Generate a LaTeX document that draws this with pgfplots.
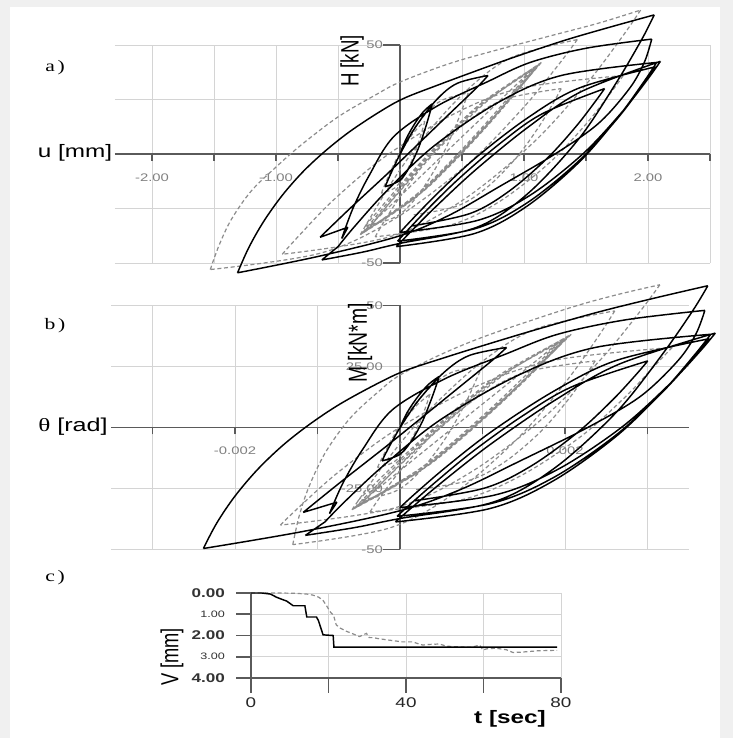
\documentclass[border=0pt]{standalone}
\usepackage{pgfplots}
\pgfplotsset{compat=1.18}
\usepackage{graphicx}
\usepackage{fontspec}
\setmainfont{Liberation Sans}[FakeStretch=1.35]
\newfontfamily\serifw{Liberation Serif}[FakeStretch=1.35]
\newfontfamily\plainsans{Liberation Sans}

\definecolor{axisgray}{HTML}{5A5A5A}
\definecolor{gridgray}{HTML}{D4D4D4}
\definecolor{dashgray}{HTML}{8C8C8C}
\definecolor{labgray}{HTML}{808080}
\definecolor{bggray}{HTML}{F0F0F0}

\pgfplotsset{
  hyst/.style={
    scale only axis, clip=false, axis lines=middle,
    axis line style={-, draw=axisgray, line width=1.1pt},
    grid=major, major grid style={draw=gridgray, line width=0.6pt},
    tick align=outside, major tick length=5.25pt,
    xtick style={draw=axisgray, line width=1.1pt},
    ytick style={draw=none},
    tick label style={font=\fontsize{8.25}{9}\selectfont, text=labgray},
    unbounded coords=jump, scaled ticks=false,
  },
  solidcurve/.style={black, line width=1.1pt, smooth, tension=0.55},
  dashcurve/.style={dashgray, line width=0.9pt, dash pattern=on 3pt off 2pt, smooth, tension=0.55},
}

\begin{document}
\begin{tikzpicture}[x=0.75pt,y=0.75pt]
\path[use as bounding box] (0,0) rectangle (733,738);
\fill[bggray] (0,0) rectangle (733,738);
\fill[white] (10,0) rectangle (720,731);

% ---------------- a) horizontal force vs. displacement
\begin{axis}[hyst, at={(86.1pt,356.25pt)}, anchor=south west,
  width=446.4pt, height=163.5pt,
  xmin=-2.3, xmax=2.5, ymin=-50, ymax=50,
  xtick={-2,-1.5,-1,-0.5,0,0.5,1,1.5,2,2.5},
  xticklabels={-2.00,,-1.00,,0.00,,1.00,,2.00,},
  ytick={-50,-25,0,25,50}, yticklabels={-50,,0,,50},
  xticklabel style={yshift=-6pt}, yticklabel style={xshift=-4pt},
]
\draw[axisgray, line width=1.1pt] (axis cs:0,50) -- ++(-12.75pt,0pt);
\draw[axisgray, line width=1.1pt] (axis cs:0,-50) -- ++(-12.75pt,0pt);
% test (dashed)
\addplot[dashcurve] coordinates {
(0,0) (0.05,5) (0.12,10.5) (0.2,15) (nan,nan)
(0.2,15) (0.183,11.5) (0.148,5.1) (0.095,-3.0) (0.025,-10.8) (-0.045,-15.7) (-0.15,-18) (nan,nan)
(-0.15,-18) (-0.115,-13.1) (-0.045,-4.2) (0.06,7.0) (0.2,18.0) (0.34,24.7) (0.55,28) (nan,nan)
(0.55,28) (0.508,21.5) (0.425,9.6) (0.30,-5.2) (0.135,-19.7) (-0.03,-28.7) (-0.28,-33) (nan,nan)
(-0.28,-33) (-0.073,-19.1) (0.134,-5.9) (0.41,10.4) (0.686,24.7) (1.1,40) (nan,nan)
(1.1,40) (0.89,25.6) (0.68,11.8) (0.40,-5.1) (0.12,-20.1) (-0.3,-36) (nan,nan)
(-0.3,-36) (-0.087,-21.4) (0.126,-7.4) (0.41,9.7) (0.694,24.9) (1.12,41) (nan,nan)
(1.12,41) (0.915,26.75) (0.709,13.2) (0.435,-3.55) (0.161,-18.3) (-0.25,-34) (nan,nan)
(-0.25,-34) (-0.05,-20.1) (0.149,-6.9) (0.415,9.4) (0.681,23.7) (1.08,39) (nan,nan)
(1.08,39) (0.87,24.6) (0.66,10.8) (0.38,-6.1) (0.10,-21.1) (-0.32,-37) (nan,nan)
(-0.32,-37) (-0.066,-23.1) (0.176,-9.8) (0.48,6.8) (0.754,21.7) (1.06,38.5) (nan,nan)
(1.06,38.5) (0.8605,25.0) (0.661,12.1) (0.395,-4.1) (0.129,-18.7) (-0.27,-35) (nan,nan)
(-0.27,-35) (-0.058,-20.8) (0.153,-7.3) (0.435,9.6) (0.717,24.9) (1.14,42) (nan,nan)
(1.14,42) (0.921,27.5) (0.702,13.6) (0.41,-3.8) (0.118,-19.5) (-0.32,-37) (nan,nan)
(-0.32,-37) (-0.0575,-12.2) (0.205,8.6) (0.555,30.1) (0.905,44.4) (1.43,52.5) (nan,nan)
(1.43,52.5) (1.282,41.2) (0.986,20.7) (0.542,-4.9) (-0.05,-30.0) (-0.642,-45.5) (-1.53,-53) (nan,nan)
(-1.53,-53) (-1.46,-42) (-1.36,-30) (-1.2,-17) (-1.0,-6) (-0.8,4) (-0.5,17) (-0.2,27) (0,33) (0.4,41.5) (0.8,48) (1.2,54) (1.6,60) (1.94,66) (nan,nan)
(1.94,66) (1.795,54.0) (1.506,32.3) (1.073,5.1) (0.495,-21.6) (-0.083,-38.0) (-0.95,-46) (nan,nan)
(-0.95,-46) (-0.81,-37.2) (-0.54,-21.3) (-0.125,-1.4) (0.425,18.1) (0.975,30.2) (1.8,36) (nan,nan)
(1.8,36) (1.70,28.1) (1.50,13.7) (1.2,-4.3) (0.8,-21.9) (0.4,-32.7) (-0.2,-38) (nan,nan)
(-0.2,-38) (-0.125,-30.7) (0.025,-17.5) (0.25,-1.0) (0.55,15.2) (0.85,25.2) (1.3,30) (nan,nan)
(1.3,30) (1.24,23.8) (1.12,12.5) (0.94,-1.6) (0.7,-15.4) (0.46,-23.9) (0.1,-28)
};
% model (solid)
\addplot[solidcurve] coordinates {
(0,0) (0.05,7) (0.12,14) (0.19,19.5) (0.26,23) (nan,nan)
(0.26,23) (0.241,18.9) (0.203,11.6) (0.146,2.3) (0.07,-6.7) (-0.006,-12.3) (-0.12,-15) (nan,nan)
(-0.12,-15) (-0.078,-9.5) (0.005,0.4) (0.129,12.7) (0.295,24.9) (0.461,32.4) (0.71,36) (nan,nan)
(0.71,36) (0.62,30.5) (0.4,18.5) (0.1,2) (-0.11,-9.5) (-0.4,-24.8) (-0.645,-38.2) (nan,nan)
(-0.645,-38.2) (-0.42,-33.6) (nan,nan)
(-0.42,-33.6) (-0.47,-38.8) (nan,nan)
(-0.47,-38.8) (-0.38,-25) (-0.25,-10) (-0.05,8) (0.3,22) (0.7,33) (1.05,42) (1.5,48.5) (2.03,52.7) (nan,nan)
(2.03,52.7) (1.97,42) (1.85,30) (1.6,14) (1.25,0) (0.8,-15) (0.4,-28) (0,-37.5) (-0.645,-46.8) (-1.31,-54.5) (nan,nan)
(-1.31,-54.5) (-1.22,-43) (-1.1,-31) (-0.95,-19) (-0.78,-8) (-0.6,1.5) (-0.4,10.5) (-0.16,19.5) (0.03,25.5) (0.3,31.5) (0.56,37) (0.9,44) (1.32,52) (1.7,58.3) (2.05,63.8) (nan,nan)
(2.05,63.8) (1.95,52.6) (1.74,32.3) (1.44,6.8) (1.03,-18.2) (0.62,-33.6) (0,-41) (-0.3,-45) (-0.63,-48.6) (nan,nan)
(-0.63,-48.6) (-0.5,-42.5) (nan,nan)
(-0.5,-42.5) (-0.37,-33.5) (-0.11,-17.1) (0.27,3.5) (0.79,23.6) (1.30,36) (2.07,42) (nan,nan)
(2.07,42) (1.965,33.0) (1.755,16.6) (1.44,-4.0) (1.02,-24.1) (0.6,-36.5) (-0.03,-42.5) (nan,nan)
(-0.03,-42.5) (0.077,-36.2) (0.29,-24.1) (0.609,-7.3) (1.035,12.4) (1.461,28.6) (2.1,42.5) (nan,nan)
(2.1,42.5) (1.995,34.1) (1.785,18.9) (1.47,-0.2) (1.05,-18.9) (0.63,-30.4) (0,-36) (nan,nan)
(0,-36) (0.103,-29.7) (0.309,-17.7) (0.618,-1.4) (1.03,16.6) (1.442,30.2) (2.06,40) (nan,nan)
(2.06,40) (1.956,31.4) (1.748,15.9) (1.436,-3.5) (1.02,-22.6) (0.604,-34.3) (-0.02,-40) (nan,nan)
(-0.02,-40) (0.064,-34.8) (0.23,-24.9) (0.481,-11.0) (0.815,5.2) (1.149,18.5) (1.65,30) (nan,nan)
(1.65,30) (1.5725,23.9) (1.4175,12.5) (1.185,-2.1) (0.875,-17.25) (0.565,-27.3) (0.1,-33)
};
\end{axis}

% ---------------- b) moment vs. rotation
\begin{axis}[hyst, at={(83.44pt,141.375pt)}, anchor=south west,
  width=433.125pt, height=183pt,
  xmin=-0.0035, xmax=0.0035, ymin=-50, ymax=50,
  xtick={-0.003,-0.002,-0.001,0,0.001,0.002,0.003},
  xticklabels={,-0.002,,0.000,,0.002,},
  ytick={-50,-25,0,25,50}, yticklabels={-50,-25.00,0,25.00,50},
  xticklabel style={yshift=-6pt}, yticklabel style={xshift=-4pt},
]
\draw[axisgray, line width=1.1pt] (axis cs:0,50) -- ++(-12.75pt,0pt);
\draw[axisgray, line width=1.1pt] (axis cs:0,-50) -- ++(-12.75pt,0pt);
\addplot[dashcurve] coordinates {
(0,0) (0.000091,4.6) (0.000218,9.6) (0.000364,13.7) (nan,nan)
(0.000364,13.7) (0.000333,10.5) (0.000269,4.6) (0.000173,-2.7) (0.000046,-9.8) (-0.000082,-14.3) (-0.000273,-16.4) (nan,nan)
(-0.000273,-16.4) (-0.000209,-11.9) (-0.000082,-3.8) (0.000109,6.4) (0.000364,16.4) (0.000619,22.5) (0.001001,25.5) (nan,nan)
(0.001001,25.5) (0.000925,19.6) (0.000774,8.7) (0.000546,-4.7) (0.000246,-17.9) (-0.000055,-26.1) (-0.000510,-30.0) (nan,nan)
(-0.000510,-30.0) (-0.000133,-17.4) (0.000244,-5.4) (0.000746,9.5) (0.001249,22.5) (0.002002,36.4) (nan,nan)
(0.002002,36.4) (0.001620,23.3) (0.001238,10.7) (0.000728,-4.6) (0.000218,-18.3) (-0.000546,-32.8) (nan,nan)
(-0.000546,-32.8) (-0.000158,-19.5) (0.000229,-6.7) (0.000746,8.8) (0.001263,22.7) (0.002038,37.3) (nan,nan)
(0.002038,37.3) (0.001665,24.3) (0.001290,12.0) (0.000792,-3.2) (0.000293,-16.7) (-0.000455,-30.9) (nan,nan)
(-0.000455,-30.9) (-0.000091,-18.3) (0.000271,-6.3) (0.000755,8.6) (0.001239,21.6) (0.001966,35.5) (nan,nan)
(0.001966,35.5) (0.001583,22.4) (0.001201,9.8) (0.000692,-5.6) (0.000182,-19.2) (-0.000582,-33.7) (nan,nan)
(-0.000582,-33.7) (-0.000120,-21.0) (0.000320,-8.9) (0.000874,6.2) (0.001372,19.7) (0.001929,35.0) (nan,nan)
(0.001929,35.0) (0.001566,22.8) (0.001203,11.0) (0.000719,-3.7) (0.000235,-17.0) (-0.000491,-31.9) (nan,nan)
(-0.000491,-31.9) (-0.000106,-18.9) (0.000278,-6.6) (0.000792,8.7) (0.001305,22.7) (0.002075,38.2) (nan,nan)
(0.002075,38.2) (0.001676,25.0) (0.001278,12.4) (0.000746,-3.5) (0.000215,-17.7) (-0.000582,-33.7) (nan,nan)
(-0.000582,-33.7) (-0.000105,-11.1) (0.000373,7.8) (0.001010,27.4) (0.001647,40.4) (0.002603,47.8) (nan,nan)
(0.002603,47.8) (0.002408,37.5) (0.002017,19.0) (0.001432,-4.3) (0.000652,-27.1) (-0.000129,-41.2) (-0.001300,-48.0) (nan,nan)
(-0.001300,-48.0) (-0.001220,-36) (-0.001100,-24) (-0.000900,-10) (-0.000600,4) (-0.000250,15) (0,21.5) (0.000500,30) (0.001000,37) (0.001600,44) (0.002200,50.5) (0.002700,55) (0.003150,58.5) (nan,nan)
(0.003150,58.5) (0.002920,48.0) (0.002460,28.9) (0.001770,4.9) (0.000850,-18.5) (-0.000070,-33.0) (-0.001450,-40) (nan,nan)
(-0.001450,-40) (-0.001210,-32.2) (-0.000740,-18.1) (-0.000025,-0.4) (0.000925,16.9) (0.001875,27.6) (0.003300,32.8) (nan,nan)
(0.003300,32.8) (0.003094,25.6) (0.002730,12.5) (0.002184,-3.9) (0.001456,-19.9) (0.000728,-29.8) (-0.000364,-34.6) (nan,nan)
(-0.000364,-34.6) (-0.000228,-27.9) (0.000046,-15.9) (0.000455,-0.9) (0.001001,13.8) (0.001547,22.9) (0.002366,27.3) (nan,nan)
(0.002366,27.3) (0.002257,21.7) (0.002038,11.4) (0.001711,-1.5) (0.001274,-14.0) (0.000837,-21.7) (0.000182,-25.5)
};
\addplot[solidcurve] coordinates {
(0,0) (0.000091,6.4) (0.000218,12.7) (0.000346,17.7) (0.000473,20.9) (nan,nan)
(0.000473,20.9) (0.000439,17.2) (0.000369,10.6) (0.000266,2.1) (0.000127,-6.1) (-0.000011,-11.2) (-0.000218,-13.7) (nan,nan)
(-0.000218,-13.7) (-0.000142,-8.6) (0.000009,0.4) (0.000235,11.6) (0.000537,22.7) (0.000839,29.5) (0.001292,32.8) (nan,nan)
(0.001292,32.8) (0.001128,27.8) (0.000728,16.8) (0.000182,1.8) (-0.000200,-8.6) (-0.000728,-22.6) (-0.001174,-34.8) (nan,nan)
(-0.001174,-34.8) (-0.000764,-30.6) (nan,nan)
(-0.000764,-30.6) (-0.000855,-35.3) (nan,nan)
(-0.000855,-35.3) (-0.000692,-22.8) (-0.000455,-9.1) (-0.000091,7.3) (0.000546,20.0) (0.001274,30.0) (0.001911,38.2) (0.002730,44.1) (0.003695,48.0) (nan,nan)
(0.003695,48.0) (0.003585,38.2) (0.003367,27.3) (0.002912,12.7) (0.002275,0) (0.001456,-13.7) (0.000728,-25.5) (0,-34.1) (-0.001174,-42.6) (-0.002384,-49.6) (nan,nan)
(-0.002384,-49.6) (-0.002220,-39.1) (-0.002002,-28.2) (-0.001729,-17.3) (-0.001420,-7.3) (-0.001092,1.4) (-0.000728,9.6) (-0.000291,17.7) (0.000055,23.2) (0.000546,28.7) (0.001019,33.7) (0.001638,40.0) (0.002402,47.3) (0.003094,53.1) (0.003731,58.1) (nan,nan)
(0.003731,58.1) (0.003549,47.9) (0.003167,29.4) (0.002621,6.2) (0.001875,-16.6) (0.001128,-30.6) (0,-37.3) (-0.000546,-41.0) (-0.001147,-44.2) (nan,nan)
(-0.001147,-44.2) (-0.000910,-38.7) (nan,nan)
(-0.000910,-38.7) (-0.000673,-30.5) (-0.000200,-15.6) (0.000491,3.2) (0.001438,21.5) (0.002366,32.8) (0.003767,38.2) (nan,nan)
(0.003767,38.2) (0.003576,30.0) (0.003194,15.1) (0.002621,-3.6) (0.001856,-21.9) (0.001092,-33.2) (-0.000055,-38.7) (nan,nan)
(-0.000055,-38.7) (0.000140,-32.9) (0.000528,-21.9) (0.001108,-6.6) (0.001884,11.3) (0.002659,26.0) (0.003822,38.7) (nan,nan)
(0.003822,38.7) (0.003631,31.0) (0.003249,17.2) (0.002675,-0.2) (0.001911,-17.2) (0.001147,-27.7) (0,-32.8) (nan,nan)
(0,-32.8) (0.000187,-27.0) (0.000562,-16.1) (0.001125,-1.3) (0.001875,15.1) (0.002624,27.5) (0.003749,36.4) (nan,nan)
(0.003749,36.4) (0.003560,28.6) (0.003181,14.5) (0.002614,-3.2) (0.001856,-20.6) (0.001099,-31.2) (-0.000036,-36.4) (nan,nan)
(-0.000036,-36.4) (0.000116,-31.7) (0.000419,-22.7) (0.000875,-10.0) (0.001483,4.7) (0.002091,16.8) (0.003003,27.3) (nan,nan)
(0.003003,27.3) (0.002862,21.7) (0.002580,11.4) (0.002157,-1.9) (0.001593,-15.7) (0.001028,-24.8) (0.000182,-30.0)
};
\end{axis}

% ---------------- c) vertical displacement vs. time
\begin{axis}[at={(188.25pt,45pt)}, anchor=south west, scale only axis,
  width=232.5pt, height=63.75pt, clip=false,
  xmin=0, xmax=80, ymin=0, ymax=4, y dir=reverse,
  axis x line=bottom, axis y line=left,
  axis line style={-, draw=axisgray, line width=1.5pt},
  grid=major, major grid style={draw=gridgray, line width=0.6pt},
  tick align=outside, major tick length=11pt,
  tick style={draw=axisgray, line width=1.2pt},
  xtick={0,20,40,60,80}, xticklabels={0,,40,,80},
  ytick={0,1,2,3,4},
  yticklabels={\textbf{0.00},{\fontsize{7}{8}\selectfont 1.00},\textbf{2.00},{\fontsize{7}{8}\selectfont 3.00},\textbf{4.00}},
  xticklabel style={font=\fontsize{10.5}{12}\selectfont, text=black!85},
  yticklabel style={font=\fontsize{9.5}{11}\selectfont, text=black!80, xshift=-5pt},
]
\addplot[dashgray, line width=0.9pt, dash pattern=on 3pt off 2pt] coordinates {
(0,0) (8,0) (12,0.02) (14.4,0.05) (16,0.1) (17.5,0.2) (18.6,0.35) (19.5,0.6) (20.5,0.9) (21.3,1.05)
(22,1.5) (23,1.65) (24.6,1.8) (26,1.9) (28,2.05) (29.8,1.9) (30.5,2.1) (31.4,2.1) (33,2.15)
(34.9,2.2) (37,2.25) (39,2.3) (41.8,2.3) (43,2.38) (44.3,2.45) (46,2.42) (48.6,2.4) (50.4,2.5)
(52,2.52) (55.5,2.55) (57,2.55) (59,2.45) (59.8,2.68) (61,2.62) (63.3,2.6) (65.9,2.67) (67.6,2.8)
(70,2.78) (74,2.72) (78,2.7) (79,2.7)
};
\addplot[black, line width=1.1pt] coordinates {
(0,0) (2.8,0) (5,0.05) (6.6,0.2) (8,0.3) (9.2,0.38) (10.9,0.6) (13.9,0.6) (14.4,1.13) (16.9,1.13)
(17.4,1.3) (18.6,1.97) (21.2,2.0) (21.4,2.55) (79,2.55)
};
\end{axis}

% ---------------- panel letters and axis titles
\node[font=\serifw\fontsize{12}{14}\selectfont] at (55,670) {a\,)};
\node[font=\serifw\fontsize{12}{14}\selectfont] at (55,412) {b\,)};
\node[font=\serifw\fontsize{12}{14}\selectfont] at (55,160) {c\,)};
\node[font=\fontsize{13.5}{15}\selectfont] at (75,585) {u [mm]};
\node[font=\fontsize{14}{16}\selectfont] at (73,311) {{\serifw θ} [rad]};
\node[rotate=90, font=\plainsans\fontsize{14}{16}\selectfont] at (352,677) {\scalebox{1}[1.35]{H [kN]}};
\node[rotate=90, font=\plainsans\fontsize{14.5}{16}\selectfont] at (360,395) {\scalebox{1}[1.35]{M [kN*m]}};
\node[rotate=90, font=\plainsans\fontsize{13.7}{16}\selectfont] at (172,81) {\scalebox{1}[1.35]{V [mm]}};
\node[font=\bfseries\fontsize{13.5}{15}\selectfont] at (510,19) {t [sec]};
\end{tikzpicture}
\end{document}
